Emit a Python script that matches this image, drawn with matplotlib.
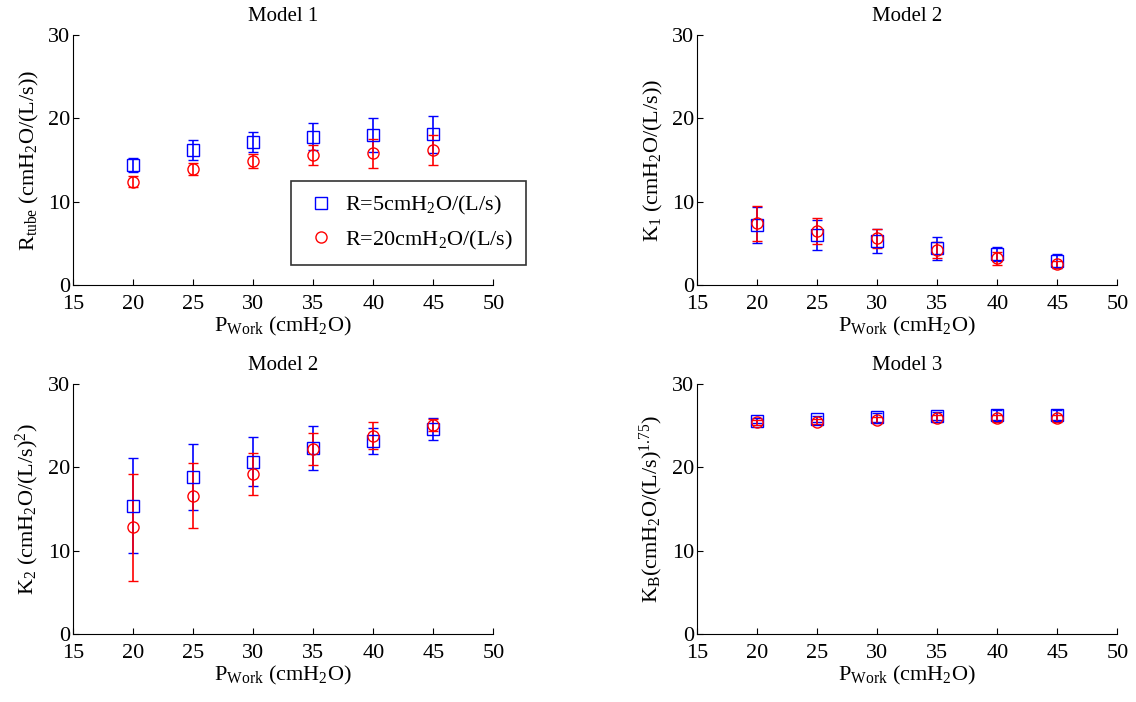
import numpy as np
import matplotlib.pyplot as plt

plt.rcParams['font.family'] = ['Liberation Serif', 'DejaVu Serif']
plt.rcParams['mathtext.fontset'] = 'custom'
plt.rcParams['mathtext.rm'] = 'Liberation Serif'
plt.rcParams['mathtext.it'] = 'Liberation Serif:italic'
plt.rcParams['font.size'] = 16

p_work = [20, 25, 30, 35, 40, 45]

# Model 1: R_tube
rtube_r5 = [14.4, 16.2, 17.2, 17.8, 18.0, 18.1]
rtube_r5_err = [0.85, 1.15, 1.2, 1.6, 2.0, 2.2]
rtube_r20 = [12.4, 13.9, 14.9, 15.6, 15.8, 16.2]
rtube_r20_err = [0.65, 0.75, 0.85, 1.15, 1.7, 1.8]

# Model 2: K1
k1_r5 = [7.2, 6.0, 5.3, 4.4, 3.7, 2.9]
k1_r5_err = [2.15, 1.85, 1.4, 1.4, 0.85, 0.8]
k1_r20 = [7.4, 6.5, 5.6, 4.2, 3.2, 2.5]
k1_r20_err = [2.1, 1.55, 1.1, 1.0, 0.75, 0.4]

# Model 2: K2
k2_r5 = [15.4, 18.8, 20.7, 22.3, 23.2, 24.6]
k2_r5_err = [5.7, 3.95, 2.95, 2.65, 1.55, 1.3]
k2_r20 = [12.8, 16.6, 19.2, 22.2, 23.8, 25.1]
k2_r20_err = [6.45, 3.9, 2.55, 1.95, 1.65, 0.7]

# Model 3: KB
kb_r5 = [25.6, 25.8, 26.0, 26.2, 26.3, 26.3]
kb_r5_err = [0.3, 0.4, 0.5, 0.5, 0.6, 0.6]
kb_r20 = [25.4, 25.5, 25.7, 25.9, 25.9, 25.9]
kb_r20_err = [0.3, 0.3, 0.35, 0.4, 0.4, 0.4]

panels = [
    ('Model 1', r'R$_{\mathrm{tube}}$ (cmH$_2$O/(L/s))', rtube_r5, rtube_r5_err, rtube_r20, rtube_r20_err),
    ('Model 2', r'K$_1$ (cmH$_2$O/(L/s))', k1_r5, k1_r5_err, k1_r20, k1_r20_err),
    ('Model 2', r'K$_2$ (cmH$_2$O/(L/s)$^2$)', k2_r5, k2_r5_err, k2_r20, k2_r20_err),
    ('Model 3', r'K$_\mathrm{B}$(cmH$_2$O/(L/s)$^{1.75}$)', kb_r5, kb_r5_err, kb_r20, kb_r20_err),
]

fig = plt.figure(figsize=(11.36, 7.02), dpi=100)
pos = [[0.0643, 0.594, 0.370, 0.356], [0.6136, 0.594, 0.370, 0.356],
       [0.0643, 0.0969, 0.370, 0.356], [0.6136, 0.0969, 0.370, 0.356]]

for i, (title, ylab, b, be, r, re) in enumerate(panels):
    ax = fig.add_axes(pos[i])
    ax.errorbar(p_work, b, yerr=be, fmt='s', color='blue', mfc='none', ms=8,
                mew=1, elinewidth=1.2, capsize=3.5, label='R=5cmH$_2$O/(L/s)')
    ax.errorbar(p_work, r, yerr=re, fmt='o', color='red', mfc='none', ms=8,
                mew=1, elinewidth=1.2, capsize=3.5, label='R=20cmH$_2$O/(L/s)')
    ax.set_xlim(15, 50)
    ax.set_ylim(0, 30)
    ax.set_xticks([15, 20, 25, 30, 35, 40, 45, 50])
    ax.set_yticks([0, 10, 20, 30])
    ax.spines['top'].set_visible(False)
    ax.spines['right'].set_visible(False)
    ax.tick_params(direction='in', length=4, labelsize=16)
    ax.tick_params(axis='x', pad=7)
    ax.tick_params(axis='y', pad=2)
    ax.set_title(title, fontsize=15, pad=10)
    ax.set_xlabel(r'P$_{\mathrm{Work}}$ (cmH$_2$O)', fontsize=16, labelpad=1)
    ax.set_ylabel(ylab, fontsize=16, labelpad=5)
    if i == 0:
        h, l = ax.get_legend_handles_labels()
        h = [x[0] for x in h]
        leg = ax.legend(h, l, loc='upper left', bbox_to_anchor=(0.519, 0.416),
                        fontsize=16, frameon=True, fancybox=False, edgecolor='black',
                        borderaxespad=0, handlelength=1.5, handletextpad=0.3,
                        borderpad=0.6)
        leg.get_frame().set_linewidth(1.2)

fig.savefig('out.png', dpi=100)
